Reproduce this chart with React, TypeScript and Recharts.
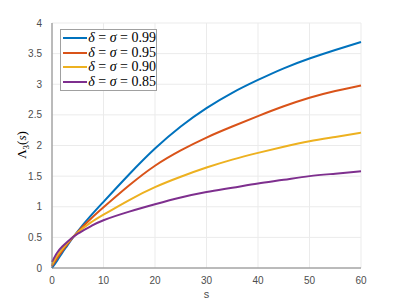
import React from 'react';
import { LineChart, Line, XAxis, YAxis, CartesianGrid } from 'recharts';

// s values along the x axis
const sValues = [0, 1, 2, 3, 5, 7.5, 10, 15, 20, 25, 30, 35, 40, 45, 50, 55, 60];

// Λ3(s) for each δ = σ case
const lambda099 = [0, 0.12, 0.25, 0.37, 0.6, 0.85, 1.08, 1.53, 1.95, 2.31, 2.61, 2.86, 3.07, 3.26, 3.42, 3.56, 3.69];
const lambda095 = [0.03, 0.16, 0.28, 0.39, 0.59, 0.8, 0.99, 1.35, 1.67, 1.92, 2.13, 2.31, 2.48, 2.64, 2.78, 2.89, 2.98];
const lambda090 = [0.05, 0.2, 0.31, 0.41, 0.58, 0.74, 0.87, 1.11, 1.32, 1.49, 1.64, 1.77, 1.88, 1.98, 2.07, 2.14, 2.21];
const lambda085 = [0.1, 0.25, 0.35, 0.43, 0.56, 0.68, 0.78, 0.92, 1.04, 1.15, 1.24, 1.31, 1.38, 1.44, 1.5, 1.54, 1.58];

const xTicks = [0, 10, 20, 30, 40, 50, 60];
const yTicks = [0, 0.5, 1, 1.5, 2, 2.5, 3, 3.5, 4];
const yTickLabels = ['0', '0.5', '1', '1.5', '2', '2.5', '3', '3.5', '4'];

const series = [
  { key: 'd099', label: '0.99', values: lambda099, color: '#0072BD' },
  { key: 'd095', label: '0.95', values: lambda095, color: '#D95319' },
  { key: 'd090', label: '0.90', values: lambda090, color: '#EDB120' },
  { key: 'd085', label: '0.85', values: lambda085, color: '#7E2F8E' },
];

const data = sValues.map((s, i) => {
  const row: { [k: string]: number } = { s };
  series.forEach((sr) => {
    row[sr.key] = sr.values[i];
  });
  return row;
});

const tickFont = { fontFamily: 'Liberation Sans, Arial, sans-serif', fontSize: 10, fill: '#4d4d4d' };

// LaTeX-ish legend box, laid over the plot area
const MathLegend = () => (
  <div
    style={{
      position: 'absolute',
      left: 60,
      top: 29,
      width: 93,
      border: '1px solid #a0a0a0',
      background: '#fff',
      padding: '1px 0 1px 2px',
      fontFamily: 'Liberation Serif, Times New Roman, serif',
      fontSize: 14,
      lineHeight: '14.5px',
      color: '#000',
    }}
  >
    {series.map((sr) => (
      <div key={sr.key} style={{ display: 'flex', alignItems: 'center', whiteSpace: 'nowrap', height: 14.5 }}>
        <svg width={28} height={4} style={{ display: 'block', marginRight: 1 }}>
          <line x1={0} y1={2} x2={26} y2={2} stroke={sr.color} strokeWidth={2} />
        </svg>
        <span>
          <i>δ</i> = <i>σ</i> = {sr.label}
        </span>
      </div>
    ))}
  </div>
);

const YLabel = () => (
  <text
    transform="translate(26,145) rotate(-90)"
    textAnchor="middle"
    fontFamily="Liberation Serif, Times New Roman, serif"
    fontSize={13}
    fill="#000"
  >
    <tspan>Λ</tspan>
    <tspan fontSize={9} dy={3}>3</tspan>
    <tspan dy={-3}>(</tspan>
    <tspan fontStyle="italic">s</tspan>
    <tspan>)</tspan>
  </text>
);

const App: React.FC = () => {
  return (
    <div style={{ position: 'absolute', left: 0, top: 0, width: 399, height: 300, background: '#fff' }}>
      <LineChart width={399} height={300} data={data} margin={{ top: 23, right: 38, bottom: 12, left: 22 }}>
        <CartesianGrid stroke="#ebebeb" strokeWidth={1} />
        <XAxis
          dataKey="s"
          type="number"
          domain={[0, 60]}
          ticks={xTicks}
          tick={tickFont}
          tickLine={false}
          axisLine={{ stroke: '#808080' }}
          height={20}
          tickMargin={3}
          label={{ value: 's', position: 'insideBottom', offset: -10, style: { fontFamily: 'Liberation Sans, Arial, sans-serif', fontSize: 11, fill: '#4d4d4d' } }}
        />
        <YAxis
          type="number"
          domain={[0, 4]}
          ticks={yTicks}
          tickFormatter={(v: number) => yTickLabels[yTicks.indexOf(v)]}
          tick={tickFont}
          tickLine={false}
          axisLine={{ stroke: '#808080' }}
          width={30}
          tickMargin={4}
        />
        {series.map((sr) => (
          <Line
            key={sr.key}
            type="natural"
            dataKey={sr.key}
            stroke={sr.color}
            strokeWidth={2}
            dot={false}
            isAnimationActive={false}
          />
        ))}
        <YLabel />
      </LineChart>
      <MathLegend />
    </div>
  );
};

export default App;
